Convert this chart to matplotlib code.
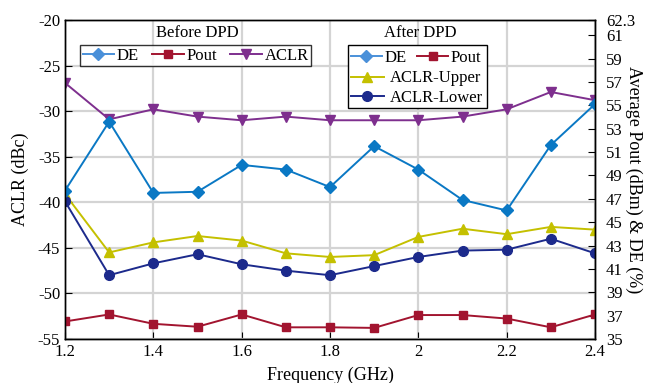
import matplotlib
matplotlib.use("Agg")
import matplotlib.pyplot as plt
from matplotlib.lines import Line2D
from matplotlib.patches import Rectangle

plt.rcParams['font.family'] = ['Liberation Serif', 'DejaVu Serif']
plt.rcParams['axes.unicode_minus'] = False

# data
freq = [1.2, 1.3, 1.4, 1.5, 1.6, 1.7, 1.8, 1.9, 2.0, 2.1, 2.2, 2.3, 2.4]
aclr_before = [-26.9, -30.9, -29.8, -30.6, -31.0, -30.6, -31.0, -31.0, -31.0, -30.6, -29.8, -27.9, -28.8]
aclr_upper = [-39.1, -45.5, -44.4, -43.7, -44.2, -45.6, -46.0, -45.8, -43.8, -42.9, -43.5, -42.7, -43.0]
aclr_lower = [-39.9, -48.0, -46.7, -45.7, -46.8, -47.5, -48.0, -47.0, -46.0, -45.3, -45.2, -44.0, -45.6]
de = [47.7, 53.6, 47.5, 47.6, 49.9, 49.5, 48.0, 51.5, 49.5, 46.9, 46.0, 51.6, 55.1]
pout = [36.5, 37.1, 36.3, 36.05, 37.1, 36.0, 36.0, 35.95, 37.05, 37.05, 36.75, 36.0, 37.1]

x_ticks = [1.2, 1.4, 1.6, 1.8, 2.0, 2.2, 2.4]
x_labels = ['1.2', '1.4', '1.6', '1.8', '2', '2.2', '2.4']
left_ticks = [-20, -25, -30, -35, -40, -45, -50, -55]
right_ticks = [35, 37, 39, 41, 43, 45, 47, 49, 51, 53, 55, 57, 59, 61, 62.3]

c_de = '#0a78c4'
c_pout = '#a2142f'
c_aclr = '#7e2f8e'
c_up = '#c4c000'
c_low = '#1c2a8c'

fig = plt.figure(figsize=(6.47, 3.83), dpi=100)
ax = fig.add_axes([65/647, 1-339/383, 530/647, 319/383])
ax2 = ax.twinx()

ax.plot(freq, aclr_before, color=c_aclr, marker='v', ms=7, lw=1.4)
ax.plot(freq, aclr_upper, color=c_up, marker='^', ms=7, lw=1.4)
ax.plot(freq, aclr_lower, color=c_low, marker='o', ms=7, lw=1.4)
ax2.plot(freq, de, color=c_de, marker='D', ms=6, lw=1.4)
ax2.plot(freq, pout, color=c_pout, marker='s', ms=6, lw=1.4)

ax.set_xlim(1.2, 2.4)
ax.set_ylim(-55, -20)
ax2.set_ylim(35, 62.3)
ax.set_xticks(x_ticks)
ax.set_xticklabels(x_labels)
ax.set_yticks(left_ticks)
ax2.set_yticks(right_ticks)
ax2.set_yticklabels(['62.3' if t == 62.3 else str(int(t)) for t in right_ticks])

ax.grid(True, color='#d4d4d4', lw=1.6)
ax.set_axisbelow(True)
ax.tick_params(direction='in', labelsize=12, length=5)
ax2.tick_params(direction='in', labelsize=12, length=5, pad=8)
for a in (ax, ax2):
    for s in a.spines.values():
        s.set_linewidth(1.0)

ax.set_xlabel('Frequency (GHz)', fontsize=13, labelpad=5)
ax.set_ylabel('ACLR (dBc)', fontsize=13, labelpad=6)
ax2.set_ylabel('Average Pout (dBm) & DE (%)', fontsize=13, rotation=270, va='center')
ax2.yaxis.set_label_coords(1.0736, 0.5)

# legend "Before DPD"
h_de = Line2D([], [], color='#4a90d9', marker='D', ms=6, lw=1.4)
h_pout = Line2D([], [], color=c_pout, marker='s', ms=6, lw=1.4)
h_aclr = Line2D([], [], color=c_aclr, marker='v', ms=7, lw=1.4)
h_up = Line2D([], [], color=c_up, marker='^', ms=7, lw=1.4)
h_low = Line2D([], [], color=c_low, marker='o', ms=7, lw=1.4)

leg1 = ax2.legend([h_de, h_pout, h_aclr], ['DE', 'Pout', 'ACLR'], ncol=3,
                  loc='upper left', bbox_to_anchor=(15/530, 1-25/319),
                  fontsize=12, frameon=True, fancybox=False, edgecolor='black',
                  handlelength=1.9, handletextpad=0.15, columnspacing=0.8,
                  borderpad=0.15, borderaxespad=0)
leg1.get_frame().set_linewidth(1.0)
ax2.add_artist(leg1)
ax2.text(132/530, 1-13/319, 'Before DPD', transform=ax2.transAxes,
         ha='center', va='center', fontsize=12)

# legend "After DPD"
ax2.add_patch(Rectangle((283/530, 1-88/319), 139/530, 63/319, transform=ax2.transAxes,
                        fill=True, facecolor='white', edgecolor='black', lw=1.0, zorder=4))
leg2 = ax2.legend([h_de, h_pout], ['DE', 'Pout'], ncol=2,
                  loc='upper left', bbox_to_anchor=(283/530, 1-27/319),
                  fontsize=12, frameon=False,
                  handlelength=1.9, handletextpad=0.15, columnspacing=0.6,
                  borderpad=0.15, borderaxespad=0)
leg2.set_zorder(5)
ax2.add_artist(leg2)
leg3 = ax2.legend([h_up, h_low], ['ACLR-Upper', 'ACLR-Lower'], ncol=1,
                  loc='upper left', bbox_to_anchor=(283/530, 1-48/319),
                  fontsize=12, frameon=False,
                  handlelength=2.0, handletextpad=0.35, labelspacing=0.2,
                  borderpad=0.15, borderaxespad=0)
leg3.set_zorder(5)
ax2.text(355/530, 1-13/319, 'After DPD', transform=ax2.transAxes,
         ha='center', va='center', fontsize=12)

fig.savefig('out.png', dpi=100)
